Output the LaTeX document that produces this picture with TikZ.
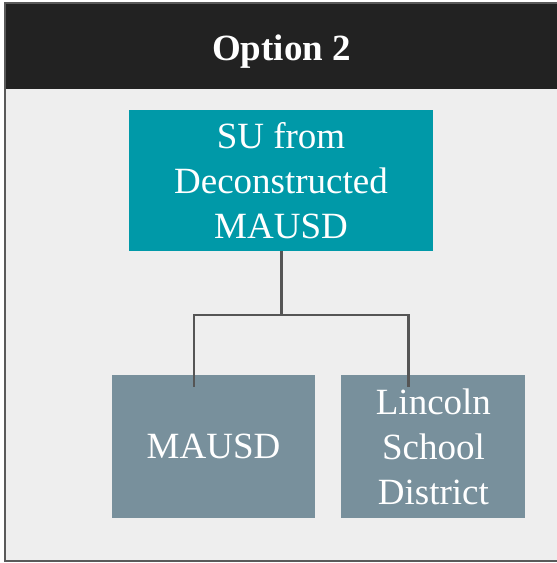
\documentclass[tikz,border=0pt]{standalone}
\usepackage{fontspec}
\setmainfont{Liberation Serif}
\usetikzlibrary{calc}
\usetikzlibrary{positioning}

\definecolor{headdark}{HTML}{222222}
\definecolor{panelgrey}{HTML}{EEEEEE}
\definecolor{framegrey}{HTML}{5A5A5A}
\definecolor{suteal}{HTML}{0099A8}
\definecolor{slatebox}{HTML}{78909C}
\definecolor{linkgrey}{HTML}{555555}

\tikzset{
    orgbox/.style={rectangle, inner sep=0pt, align=center, text=white, font=\fontsize{37}{45}\selectfont},
    link/.style={draw=linkgrey, line width=2.2pt},
}

\begin{document}
\begin{tikzpicture}[x=1pt, y=1pt]
    \useasboundingbox (0,0) rectangle (557,563);
    \fill[panelgrey] (5,2) rectangle (558,560);
    \fill[headdark] (5,474) rectangle (558,560);
    \node [anchor=base, inner sep=0pt, text=white, font=\fontsize{37}{45}\selectfont\bfseries] (title) at (281.5,502) {Option 2};
    \draw[framegrey, line width=1.8pt] (5,2) rectangle (558,560);

    \node [orgbox, fill=suteal, minimum width=304pt, minimum height=141pt] (su) at (281,382.5) {SU from\\Deconstructed\\MAUSD};
    \node [orgbox, fill=slatebox, minimum width=203pt, minimum height=143pt] (mausd) at (213.5,116.5) {MAUSD};
    \node [orgbox, fill=slatebox, minimum width=184pt, minimum height=143pt, right=26pt of mausd] (lincoln) {Lincoln\\School\\District};

    \draw [link, line width=3pt] (su.south) -- ++(0,-64) coordinate (fork);
    \draw [link] ([xshift=-19.5pt, yshift=-12pt] mausd.north) |- (fork) -| ([xshift=-25pt, yshift=-12pt] lincoln.north);
\end{tikzpicture}
\end{document}
